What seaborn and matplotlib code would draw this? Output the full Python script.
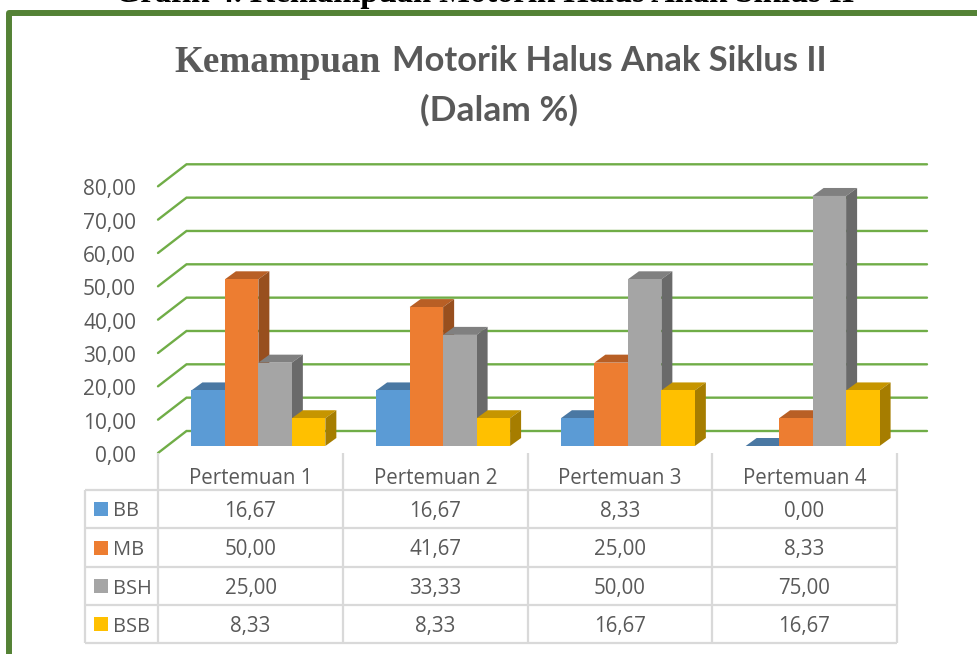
import numpy as np
import pandas as pd
import matplotlib
matplotlib.use("Agg")
import matplotlib.pyplot as plt
import seaborn as sns
from matplotlib.patches import Polygon, Rectangle
from matplotlib.lines import Line2D

categories = ["Pertemuan 1", "Pertemuan 2", "Pertemuan 3", "Pertemuan 4"]
series_names = ["BB", "MB", "BSH", "BSB"]
bb_values = [16.67, 16.67, 8.33, 0.00]
mb_values = [50.00, 41.67, 25.00, 8.33]
bsh_values = [25.00, 33.33, 50.00, 75.00]
bsb_values = [8.33, 8.33, 16.67, 16.67]
y_ticks = [0, 10, 20, 30, 40, 50, 60, 70, 80]

front_colors = ["#5B9BD5", "#ED7D31", "#A5A5A5", "#FFC000"]
top_colors = ["#4A78A3", "#B85F25", "#808080", "#C69500"]
side_colors = ["#3F6A92", "#984F1E", "#6A6A6A", "#A67D00"]
text_color = "#595959"
grid_color = "#70AD47"
table_color = "#D9D9D9"
border_color = "#548235"

W, H = 978, 654

df = pd.DataFrame({"kategori": categories, "BB": bb_values, "MB": mb_values,
                   "BSH": bsh_values, "BSB": bsb_values})
df_long = df.melt(id_vars="kategori", var_name="seri", value_name="nilai")

sns.set_theme(style="white")
plt.rcParams["font.family"] = ["Open Sans", "DejaVu Sans"]

fig = plt.figure(figsize=(W / 100, H / 100), dpi=100)
# sumbu ditaruh pas di bidang dasar batang (piksel gambar)
ax_l, ax_r, ax_b, ax_t = 166, 905, 446, 179.3
ax = fig.add_axes([ax_l / W, 1 - ax_b / H, (ax_r - ax_l) / W, (ax_b - ax_t) / H])
sns.barplot(data=df_long, x="kategori", y="nilai", hue="seri", order=categories,
            hue_order=series_names, palette=front_colors, width=0.725, gap=0,
            legend=False, saturation=1, linewidth=0, edgecolor="none", ax=ax, zorder=5)
ax.set_xlim(-0.5, 3.5)
ax.set_ylim(0, 80)
ax.axis("off")

px_x = 4 / (ax_r - ax_l)
px_y = 80 / (ax_b - ax_t)


def shift(x, y, dx, dy):
    return x + dx * px_x, y + dy * px_y


# grid 3D: dari bidang depan, ke belakang, lalu ke kanan
for v in y_ticks:
    x0, y0 = shift(-0.5, v, -8, -7)
    x1, y1 = shift(-0.5, v, 20.5, 15)
    x2, y2 = shift(-0.5, v, 927 - ax_l, 15)
    ax.plot([x0, x1, x2], [y0, y1, y1], color=grid_color, lw=1.7, clip_on=False,
            zorder=1, solid_joinstyle="miter")
    tx, ty = shift(-0.5, v, 136 - ax_l, -8)
    ax.text(tx, ty, f"{v:.2f}".replace(".", ","), ha="right", va="center_baseline",
            fontsize=15, color=text_color)

# sisi atas dan samping tiap batang
depth_x, depth_y = 11, 8
bars = [p for p in ax.patches if p.get_width() > 0]
order = sorted(range(len(bars)), key=lambda i: bars[i].get_x())
for rank, i in enumerate(order):
    bar = bars[i]
    k = rank % 4
    x, w, h = bar.get_x(), bar.get_width(), bar.get_height()
    bx, by = shift(x + w, h, depth_x, depth_y)
    tx, _ = shift(x, h, depth_x, depth_y)
    base_x, base_y = shift(x + w, 0, depth_x, depth_y)
    z = 6 + rank * 0.01
    bar.set_zorder(z + 0.005)
    ax.add_patch(Polygon([(x, h), (x + w, h), (bx, by), (tx, by)], closed=True,
                         fc=top_colors[k], ec="none", clip_on=False, zorder=z))
    if h > 0:
        ax.add_patch(Polygon([(x + w, 0), (x + w, h), (bx, by), (base_x, base_y)], closed=True,
                             fc=side_colors[k], ec="none", clip_on=False, zorder=z))
    bar.set_clip_on(False)


def fx(p):
    return p / W


def fy(p):
    return 1 - p / H


def fig_line(xs, ys, color, lw):
    fig.add_artist(Line2D([fx(a) for a in xs], [fy(b) for b in ys], color=color, lw=lw,
                          solid_capstyle="butt", solid_joinstyle="round"))


# tabel data
col_x = [158, 343, 528, 712, 897]
row_y = [490, 528, 567, 605, 643]
for y in row_y:
    fig_line([85, 897], [y, y], table_color, 1.6)
for x in col_x:
    fig_line([x, x], [453, 643], table_color, 1.6)
fig_line([85, 85], [490, 643], table_color, 1.6)

for j, cat in enumerate(categories):
    cx = (col_x[j] + col_x[j + 1]) / 2
    fig.text(fx(cx), fy(476), cat, ha="center", va="center_baseline", fontsize=14.8, color=text_color)

table_rows = [bb_values, mb_values, bsh_values, bsb_values]
for r, (name, values) in enumerate(zip(series_names, table_rows)):
    cy = (row_y[r] + row_y[r + 1]) / 2
    fig.add_artist(Rectangle((fx(94), fy(cy + 7)), 14 / W, 14 / H, transform=fig.transFigure,
                             fc=front_colors[r], ec="none"))
    fig.text(fx(113), fy(cy), name, ha="left", va="center_baseline", fontsize=14.4, color=text_color)
    for j, val in enumerate(values):
        cx = (col_x[j] + col_x[j + 1]) / 2
        fig.text(fx(cx), fy(cy), f"{val:.2f}".replace(".", ","), ha="center", va="center_baseline",
                 fontsize=14.8, color=text_color)

# judul, kata pertama pakai serif
fig.text(fx(381), fy(58), "Kemampuan", ha="right", va="center_baseline", fontsize=26.7,
         fontweight="bold", family="Liberation Serif", color=text_color)
fig.text(fx(392), fy(58), "Motorik Halus Anak Siklus II", ha="left", va="center_baseline",
         fontsize=24.8, fontweight="bold", family="Lato", color=text_color)
fig.text(fx(499), fy(107), "(Dalam %)", ha="center", va="center_baseline", fontsize=25.4,
         fontweight="bold", family="Lato", color=text_color)

# teks keterangan di atas yang terpotong
fig.text(fx(115), fy(2), "Grafik 4. Kemampuan Motorik Halus Anak Siklus II", ha="left",
         va="baseline", fontsize=23.5, fontweight="bold", family="Liberation Serif", color="black")

# bingkai hijau: kiri dan atas saja, gambar terpotong
fig_line([9, 9, W], [H, 13, 13], border_color, 4.3)

fig.savefig("out.png", dpi=100, facecolor="white")
